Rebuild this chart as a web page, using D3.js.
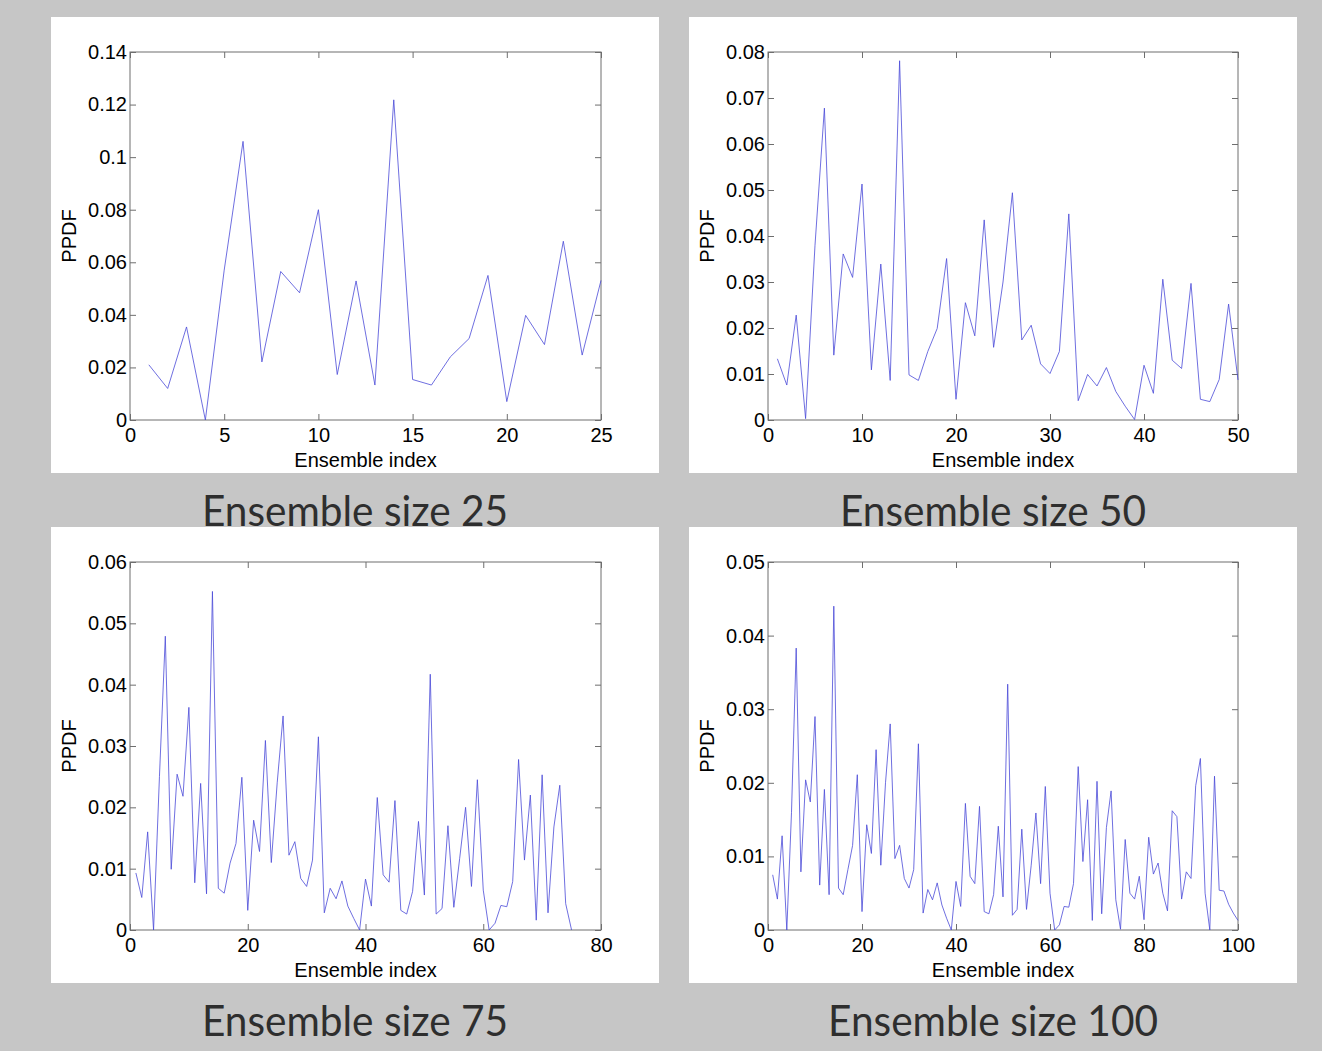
<!DOCTYPE html>
<html><head><meta charset="utf-8">
<script src="https://cdn.jsdelivr.net/npm/d3@7"></script>
<style>
html,body{margin:0;padding:0;background:#c6c6c6;}
svg{display:block;}
</style></head>
<body>
<svg id="chart" width="1322" height="1051"></svg>
<script>
// ---- data ----
const titles = ["Ensemble size 25", "Ensemble size 50", "Ensemble size 75", "Ensemble size 100"];
const xLabel = "Ensemble index";
const yLabel = "PPDF";

const ppdf25 = [0.021,0.012,0.0354,0,0.057,0.106,0.0221,0.0565,0.0484,0.080,0.0173,0.0529,0.0133,0.1218,0.0154,0.0133,0.024,0.031,0.055,0.007,0.0398,0.0287,0.068,0.0247,0.0531];

const ppdf50 = [0.0133,0.0076,0.0228,0.0003,0.038,0.0678,0.0141,0.0361,0.031,0.0513,
0.0109,0.0339,0.0086,0.0781,0.0098,0.0086,0.0149,0.0199,0.0351,0.0045,
0.0255,0.0183,0.0435,0.0158,0.030,0.0494,0.0174,0.0206,0.0122,0.0101,
0.0149,0.0448,0.0042,0.0099,0.0074,0.0114,0.0062,0.003,0.0001,0.0119,
0.0058,0.0306,0.013,0.0112,0.0297,0.0045,0.004,0.0088,0.0252,0.0087];

const ppdf75 = [0.0093,0.0053,0.016,0,0.025,0.0479,0.0099,0.0254,0.0218,0.0363,
0.0077,0.0239,0.0059,0.0552,0.0068,0.006,0.0109,0.0141,0.0249,0.0032,
0.0179,0.0128,0.0309,0.011,0.024,0.0349,0.0122,0.0144,0.0084,0.0071,
0.0114,0.0315,0.0028,0.0068,0.0051,0.008,0.0039,0.0019,0,0.0083,
0.0039,0.0216,0.009,0.0078,0.0211,0.0032,0.0026,0.0063,0.0177,0.0057,
0.0417,0.0026,0.0035,0.017,0.0037,0.0117,0.020,0.0071,0.0245,0.0065,
0,0.0011,0.004,0.0038,0.0079,0.0278,0.0114,0.022,0.0016,0.0253,
0.0028,0.0168,0.0236,0.0043,0];

const ppdf100 = [0.0075,0.0042,0.0128,0,0.016,0.0383,0.0079,0.0204,0.0174,0.029,
0.0061,0.0191,0.0048,0.044,0.0057,0.0048,0.0082,0.0115,0.0211,0.0025,
0.0143,0.0104,0.0245,0.0088,0.020,0.028,0.0097,0.0115,0.007,0.0057,
0.0082,0.0253,0.0023,0.0055,0.0041,0.0064,0.0034,0.0016,0,0.0066,
0.0032,0.0172,0.0073,0.0063,0.0168,0.0025,0.0022,0.0048,0.0141,0.0045,
0.0334,0.002,0.0028,0.0137,0.0028,0.0088,0.0159,0.0063,0.0195,0.005,
0,0.0007,0.0032,0.0031,0.0063,0.0222,0.0093,0.0177,0.0013,0.0202,
0.0022,0.0139,0.0189,0.0041,0.0001,0.0123,0.005,0.0042,0.0073,0.0014,
0.0126,0.0076,0.0091,0.005,0.0026,0.0162,0.0154,0.0042,0.0079,0.007,
0.0196,0.0233,0.005,0,0.0209,0.0054,0.0053,0.0035,0.0023,0.0013];

const xMaxes = [25, 50, 80, 100];
const xTickSteps = [5, 10, 20, 20];
const yMaxes = [0.14, 0.08, 0.06, 0.05];
const yTickSteps = [0.02, 0.01, 0.01, 0.01];
const series = [ppdf25, ppdf50, ppdf75, ppdf100];

// ---- layout ----
const svg = d3.select("#chart");
const panels = [
  {px:51, py:17, left:130, right:601, top:52, bottom:420, titleX:355, titleY:526},
  {px:689, py:17, left:768, right:1238, top:52, bottom:420, titleX:993, titleY:526},
  {px:51, py:527, left:130, right:601, top:562, bottom:930, titleX:355, titleY:1036},
  {px:689, py:527, left:768, right:1238, top:562, bottom:930, titleX:993, titleY:1036}
];
const panelW = 608, panelH = 456;
const fontTick = "'Liberation Sans', Arial, Helvetica, sans-serif";
const fs = 20;

// titles first (white panels sit over their lower edge)
panels.forEach((p, i) => {
  svg.append("text")
    .attr("x", p.titleX).attr("y", p.titleY)
    .attr("text-anchor", "middle")
    .attr("font-family", "Lato, 'DejaVu Sans', sans-serif")
    .attr("font-size", 42)
    .attr("fill", "#2e2e2e")
    .attr("textLength", i === 3 ? 330 : 306)
    .attr("lengthAdjust", "spacingAndGlyphs")
    .text(titles[i]);
});

panels.forEach((p, i) => {
  const g = svg.append("g");
  g.append("rect").attr("x", p.px).attr("y", p.py)
    .attr("width", panelW).attr("height", panelH).attr("fill", "#ffffff");

  const x = d3.scaleLinear().domain([0, xMaxes[i]]).range([p.left, p.right]);
  const y = d3.scaleLinear().domain([0, yMaxes[i]]).range([p.bottom, p.top]);
  const xt = d3.range(0, xMaxes[i] + 1e-9, xTickSteps[i]);
  const yt = d3.range(0, Math.round(yMaxes[i] / yTickSteps[i]) + 1).map(k => +(k * yTickSteps[i]).toFixed(4));
  const fmt = d3.format("~g");

  // box
  g.append("rect").attr("x", p.left).attr("y", p.top)
    .attr("width", p.right - p.left).attr("height", p.bottom - p.top)
    .attr("fill", "none").attr("stroke", "#6e6e6e").attr("stroke-width", 1);

  // axes: ticks inward on all four sides
  const axB = d3.axisBottom(x).tickValues(xt).tickSize(-6).tickPadding(8).tickFormat(fmt);
  const axT = d3.axisTop(x).tickValues(xt).tickSize(-6).tickFormat("");
  const axL = d3.axisLeft(y).tickValues(yt).tickSize(-6).tickPadding(3).tickFormat(fmt);
  const axR = d3.axisRight(y).tickValues(yt).tickSize(-6).tickFormat("");

  const styleAxis = sel => {
    sel.select(".domain").remove();
    sel.selectAll(".tick line").attr("stroke", "#6e6e6e");
    sel.selectAll("text").attr("font-family", fontTick).attr("font-size", fs).attr("fill", "#000");
  };
  g.append("g").attr("transform", `translate(0,${p.bottom})`).call(axB).call(styleAxis);
  g.append("g").attr("transform", `translate(0,${p.top})`).call(axT).call(styleAxis);
  g.append("g").attr("transform", `translate(${p.left},0)`).call(axL).call(styleAxis);
  g.append("g").attr("transform", `translate(${p.right},0)`).call(axR).call(styleAxis);

  // line
  const line = d3.line().x((d, k) => x(k + 1)).y(d => y(d));
  g.append("path").datum(series[i]).attr("d", line)
    .attr("fill", "none").attr("stroke", "#4a4ad8").attr("stroke-width", 0.8)
    .attr("stroke-linejoin", "miter");

  // labels
  g.append("text").attr("x", (p.left + p.right) / 2).attr("y", p.bottom + 47)
    .attr("text-anchor", "middle").attr("font-family", fontTick).attr("font-size", fs)
    .text(xLabel);
  g.append("text").attr("transform", `translate(${p.left - 54},${(p.top + p.bottom) / 2}) rotate(-90)`)
    .attr("text-anchor", "middle").attr("font-family", fontTick).attr("font-size", fs)
    .text(yLabel);
});
</script>
</body></html>
